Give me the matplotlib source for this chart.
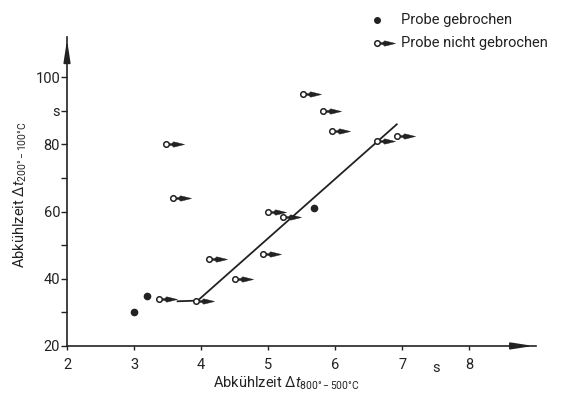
import matplotlib.pyplot as plt
from matplotlib.path import Path

plt.rcParams['font.family'] = ['Roboto', 'DejaVu Sans']
plt.rcParams['mathtext.fontset'] = 'custom'
plt.rcParams['mathtext.rm'] = 'Roboto'
plt.rcParams['mathtext.it'] = 'Roboto:italic'

# Probe gebrochen (filled dots)
broken_x = [3.0, 3.2, 5.68]
broken_y = [30, 35, 61]

# Probe nicht gebrochen (open circle + arrow)
unbroken_x = [3.48, 3.58, 3.37, 3.93, 4.12, 4.5, 4.92, 5.0, 5.22, 5.52, 5.82, 5.96, 6.62, 6.92]
unbroken_y = [80, 64, 34, 33.5, 46, 40, 47.5, 60, 58.5, 95, 90, 84, 81, 82.5]

# boundary line
line_x = [3.65, 3.95, 6.92]
line_y = [33.3, 33.5, 86]

x_ticks = [2, 3, 4, 5, 6, 7, 8]
y_ticks = [20, 30, 40, 50, 60, 70, 80, 90, 100]
y_labels = ['20', '', '40', '', '60', '', '80', 's', '100']

# dart marker pointing right, origin = circle centre
dart = Path([(0.12, -0.05), (0.3, -0.06), (0.4, -0.15), (1.0, 0.0),
             (0.4, 0.15), (0.3, 0.06), (0.12, 0.05), (0.12, -0.05)],
            [Path.MOVETO] + [Path.LINETO] * 6 + [Path.CLOSEPOLY])

fig = plt.figure(figsize=(5.68, 3.94), dpi=100)
ax = fig.add_axes([0.118, 0.122, 0.826, 0.784])
ax.set_xlim(2, 9)
ax.set_ylim(20, 112)

ax.spines['top'].set_visible(False)
ax.spines['right'].set_visible(False)
for s in ['left', 'bottom']:
    ax.spines[s].set_linewidth(1.2)
    ax.spines[s].set_color('#222222')

# arrow heads on the axes
ax.annotate('', xy=(1.0, 0), xytext=(0.95, 0), xycoords='axes fraction',
            arrowprops=dict(arrowstyle='-|>,head_length=1.3,head_width=0.2', color='#222222', lw=1.2))
ax.annotate('', xy=(0, 1.0), xytext=(0, 0.95), xycoords='axes fraction',
            arrowprops=dict(arrowstyle='-|>,head_length=1.3,head_width=0.2', color='#222222', lw=1.2))

ax.set_xticks(x_ticks)
ax.set_xticklabels([str(t) for t in x_ticks])
ax.set_yticks(y_ticks)
ax.set_yticklabels(y_labels)
ax.tick_params(axis='x', length=3, width=1, pad=6, labelsize=10.5, colors='#222222')
ax.tick_params(axis='y', length=4, width=1, pad=1, labelsize=10.5, colors='#222222')
ax.text(7.5, -0.05, 's', transform=ax.get_xaxis_transform(), ha='center', va='top',
        fontsize=10.5, color='#222222')

ax.plot(line_x, line_y, color='#222222', lw=1.3, zorder=2)
ax.plot(broken_x, broken_y, 'o', color='#222222', ms=4.5, zorder=4)
ax.plot(unbroken_x, unbroken_y, linestyle='none', marker=dart, ms=26,
        color='#222222', mec='#222222', mew=0.3, zorder=3)
ax.plot(unbroken_x, unbroken_y, 'o', ms=4, mfc='white', mec='#222222', mew=1.1, zorder=4)

ax.text(0.467, -0.12, r'Abkühlzeit $\mathit{\Delta t}_{\mathregular{800°-500°C}}$',
        transform=ax.transAxes, ha='center', va='center', fontsize=10.5, color='#222222')
ax.text(-0.1, 0.49, r'Abkühlzeit $\mathit{\Delta t}_{\mathregular{200°-100°C}}$',
        transform=ax.transAxes, ha='center', va='center', rotation=90, fontsize=10.5,
        color='#222222')

# legend drawn by hand above the plot
ax.plot([0.661], [1.055], 'o', color='#222222', ms=4, transform=ax.transAxes, clip_on=False)
ax.text(0.712, 1.055, 'Probe gebrochen', transform=ax.transAxes, va='center', fontsize=10.5,
        color='#222222')
ax.plot([0.661], [0.98], linestyle='none', marker=dart, ms=26, color='#222222', mew=0.3,
        transform=ax.transAxes, clip_on=False)
ax.plot([0.661], [0.98], 'o', ms=4, mfc='white', mec='#222222', mew=1.1,
        transform=ax.transAxes, clip_on=False)
ax.text(0.712, 0.98, 'Probe nicht gebrochen', transform=ax.transAxes, va='center',
        fontsize=10.5, color='#222222')

fig.savefig('out.png', dpi=100)
